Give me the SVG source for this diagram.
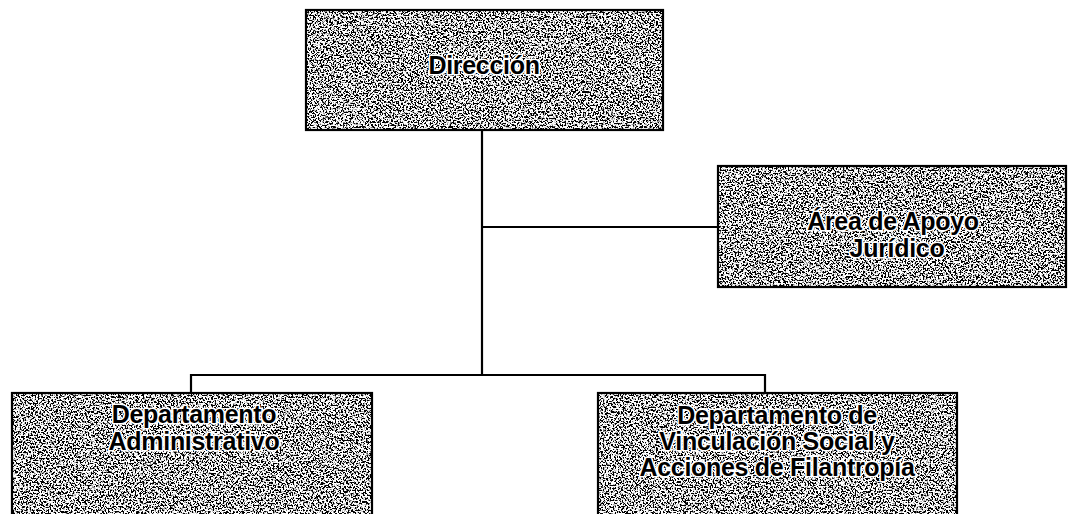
<svg xmlns="http://www.w3.org/2000/svg" width="1071" height="514" viewBox="0 0 1071 514">
  <style>
    .box { fill: #ffffff; stroke: none; }
    .frame { fill: none; stroke: #000000; stroke-width: 2.2; }
    .lbl { font-family: "Liberation Sans", Arial, sans-serif; font-weight: bold; font-size: 25px; fill: #000000; stroke: #ffffff; stroke-width: 3.2; paint-order: stroke; stroke-linejoin: round; text-anchor: middle; letter-spacing: -0.3px; }
    .conn { stroke: #000000; stroke-width: 2.2; fill: none; }
  </style>
  <defs>
    <filter id="stipple" x="0" y="0" width="100%" height="100%" filterUnits="objectBoundingBox">
      <feTurbulence type="fractalNoise" baseFrequency="0.6" numOctaves="2" seed="7" result="noise"/>
      <feColorMatrix in="noise" type="matrix" values="0 0 0 0 0  0 0 0 0 0  0 0 0 0 0  -10 0 0 0 5.4" result="dots"/>
      <feComposite in="dots" in2="SourceGraphic" operator="in" result="clipped"/>
      <feMerge>
        <feMergeNode in="SourceGraphic"/>
        <feMergeNode in="clipped"/>
      </feMerge>
    </filter>
  </defs>

  <g id="connectors">
    <line class="conn" x1="482" y1="130" x2="482" y2="375"/>
    <line class="conn" x1="482" y1="227" x2="718" y2="227"/>
    <line class="conn" x1="190" y1="375" x2="766" y2="375"/>
    <line class="conn" x1="191" y1="374" x2="191" y2="393"/>
    <line class="conn" x1="765" y1="374" x2="765" y2="393"/>
  </g>

  <g id="node-direccion">
    <rect class="box" x="306" y="10" width="357" height="120" filter="url(#stipple)"/>
    <rect class="frame" x="306" y="10" width="357" height="120"/>
    <text class="lbl" x="484" y="74">Dirección</text>
  </g>

  <g id="node-apoyo-juridico">
    <rect class="box" x="718" y="166" width="348" height="121" filter="url(#stipple)"/>
    <rect class="frame" x="718" y="166" width="348" height="121"/>
    <text class="lbl" x="893" y="230">Área de Apoyo</text>
    <text class="lbl" x="897" y="257">Jurídico</text>
  </g>

  <g id="node-administrativo">
    <rect class="box" x="12" y="393" width="360" height="130" filter="url(#stipple)"/>
    <rect class="frame" x="12" y="393" width="360" height="130"/>
    <text class="lbl" x="194" y="423">Departamento</text>
    <text class="lbl" x="194" y="450">Administrativo</text>
  </g>

  <g id="node-vinculacion">
    <rect class="box" x="598" y="393" width="359" height="130" filter="url(#stipple)"/>
    <rect class="frame" x="598" y="393" width="359" height="130"/>
    <text class="lbl" x="777" y="424">Departamento de</text>
    <text class="lbl" x="777" y="450">Vinculación Social y</text>
    <text class="lbl" x="777" y="476">Acciones de Filantropía</text>
  </g>
</svg>
